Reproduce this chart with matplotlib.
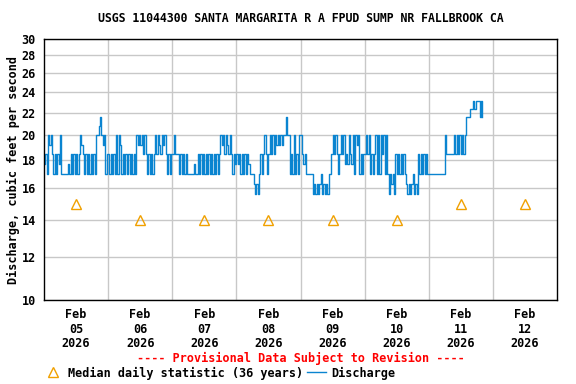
import numpy as np
import matplotlib
matplotlib.use("Agg")
import matplotlib.pyplot as plt
from matplotlib.lines import Line2D
from matplotlib.ticker import FixedLocator, NullLocator

title = "USGS 11044300 SANTA MARGARITA R A FPUD SUMP NR FALLBROOK CA"
day_labels = ["Feb\n05\n2026", "Feb\n06\n2026", "Feb\n07\n2026", "Feb\n08\n2026",
              "Feb\n09\n2026", "Feb\n10\n2026", "Feb\n11\n2026", "Feb\n12\n2026"]
median_cfs = [15, 14, 14, 14, 14, 14, 15, 15]
ytick_vals = [10, 12, 14, 16, 18, 20, 22, 24, 26, 28, 30]

# discharge steps, one code per 30 minutes
levels = {'0': 15.6, '1': 16.3, '2': 17.0, '3': 17.7, '4': 18.5, '5': 19.2,
          '6': 20.0, '7': 20.8, '8': 21.6, '9': 22.3, 'A': 23.1}
feb05 = ["342", "656", "424243", "6", "2222232", "4242424", "654", "242424242", "6678", "65624"]
feb06 = ["4242426265", "24242424242", "6565646", "4242424", "646546564", "2424"]
feb07 = ["4644", "4242424", "22222322", "4242424", "2424242424", "65646546", "4243"]
feb08 = ["43424242432", "22", "1010", "242464246464", "6565656686", "624262426"]
feb09 = ["6434", "22222", "010101201010", "22", "4646424646", "343643", "626562424"]
feb10 = ["46462424", "626264626", "202120", "42424242", "101012010", "42424242"]
feb11 = ["222222222222", "6", "444444", "646464646", "8889", "9A9AAA8A8"]

codes = "".join(feb05 + feb06 + feb07 + feb08 + feb09 + feb10 + feb11)
q = [levels[c] for c in codes]
t = np.arange(len(q)) / 48.0

fig = plt.figure(figsize=(5.76, 3.84), dpi=100)
ax = fig.add_axes([44/576, 1 - 300/384, (557 - 44)/576, (300 - 39)/384])

font = dict(family="DejaVu Sans Mono", weight="bold")

ax.set_yscale("log")
ax.set_ylim(10, 30)
ax.set_xlim(0, 8)
ax.yaxis.set_major_locator(FixedLocator(ytick_vals))
ax.yaxis.set_minor_locator(NullLocator())
ax.set_yticklabels([str(v) for v in ytick_vals], fontsize=8.5, **font)
ax.set_xticks(np.arange(8) + 0.5)
ax.set_xticklabels(day_labels, fontsize=8.5, linespacing=1.15, **font)
ax.xaxis.set_minor_locator(FixedLocator(np.arange(1, 8)))
ax.tick_params(which="both", length=0, pad=6)
ax.grid(True, axis="y", which="major", color="#c8c8c8", lw=1)
ax.grid(True, axis="x", which="minor", color="#c8c8c8", lw=1)
ax.set_axisbelow(True)
for s in ax.spines.values():
    s.set_linewidth(1)

ax.plot(t, q, drawstyle="steps-post", color="#0a84d0", lw=1)
ax.plot(np.arange(8) + 0.5, median_cfs, "^", ms=7, mfc="none", mec="#f0a000", mew=1)

ax.set_ylabel("Discharge, cubic feet per second", fontsize=8.5, labelpad=1, **font)
fig.text(0.5 * (44 + 557) / 576, 1 - 19/384, title, ha="center", va="center",
         fontsize=8.3, **font)
fig.text(0.5 * (44 + 557) / 576, 1 - 358/384, "---- Provisional Data Subject to Revision ----",
         ha="center", va="center", color="red", fontsize=8.5, **font)

handles = [Line2D([], [], ls="none", marker="^", ms=7, mfc="none", mec="#f0a000", mew=1),
           Line2D([], [], color="#0a84d0", lw=1)]
fig.legend(handles, ["Median daily statistic (36 years)", "Discharge"], ncol=2,
           loc="center left", bbox_to_anchor=(38/576, 1 - 373/384), frameon=False,
           prop=dict(family="DejaVu Sans Mono", weight="bold", size=8.5),
           handlelength=1.6, handletextpad=0.4, columnspacing=0.4, borderpad=0)

fig.savefig("out.png", dpi=100)
